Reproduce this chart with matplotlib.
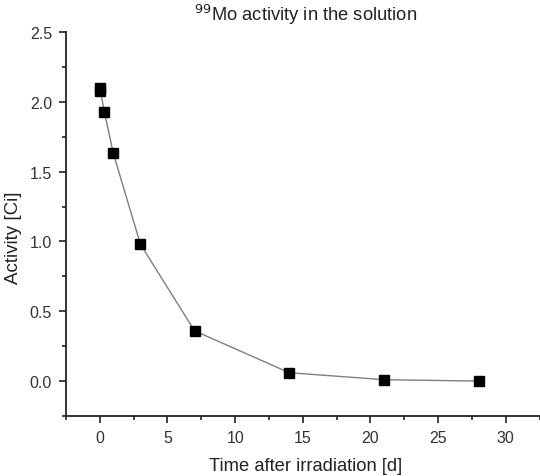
import numpy as np
import matplotlib as mpl
import matplotlib.pyplot as plt
from matplotlib.ticker import MultipleLocator

mpl.rcParams['font.family'] = ['Liberation Sans', 'DejaVu Sans']
mpl.rcParams['xtick.direction'] = 'out'
mpl.rcParams['ytick.direction'] = 'out'

#--------------------------------------------------
# data
#--------------------------------------------------
days = [0.0, 0.04, 0.33, 1.0, 3.0, 7.0, 14.0, 21.0, 28.0]
activity = [2.10, 2.08, 1.93, 1.63, 0.98, 0.36, 0.06, 0.01, 0.0]

#--------------------------------------------------
# plot
#--------------------------------------------------
fig = plt.figure(figsize=[5.4, 4.77], dpi=100)
ax = fig.add_axes([66/540, 1 - 417/477, (545 - 66)/540, (417 - 33)/477])

ax.plot(days, activity, c='#7f7f7f', lw=1, zorder=1)
ax.plot(days, activity, ls='none', marker='s', ms=6.5, mfc='black', mec='black', zorder=2)

ax.set_xlim(-2.5, 32.9)
ax.set_ylim(-0.25, 2.5)
ax.xaxis.set_major_locator(MultipleLocator(5))
ax.xaxis.set_minor_locator(MultipleLocator(2.5))
ax.yaxis.set_major_locator(MultipleLocator(0.5))
ax.yaxis.set_minor_locator(MultipleLocator(0.25))
ax.yaxis.set_major_formatter(mpl.ticker.FormatStrFormatter('%.1f'))

for s in ['top', 'right']:
    ax.spines[s].set_visible(False)
for s in ['left', 'bottom']:
    ax.spines[s].set_linewidth(1.3)
    ax.spines[s].set_color('#222222')

ax.tick_params(which='major', length=5, width=1.2, labelsize=11.5, colors='#222222', pad=5)
ax.tick_params(which='minor', length=3, width=1.2, colors='#222222')
ax.tick_params(axis='x', labelcolor='#333333')
ax.tick_params(axis='y', labelcolor='#333333')

ax.set_title(r'$^{99}$Mo activity in the solution', fontsize=13.2, color='#222222', pad=9)
ax.set_xlabel('Time after irradiation [d]', fontsize=13.2, color='#222222', labelpad=9)
ax.set_ylabel('Activity [Ci]', fontsize=13.5, color='#222222')
ax.yaxis.set_label_coords(-0.092, 0.468)

plt.savefig('out.png', dpi=100)
